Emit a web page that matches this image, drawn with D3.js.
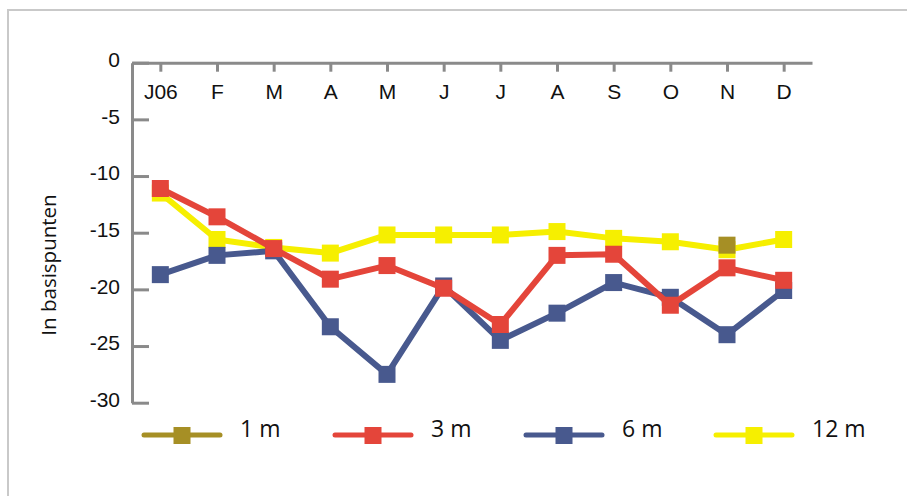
<!DOCTYPE html>
<html>
<head>
<meta charset="utf-8">
<script src="https://cdn.jsdelivr.net/npm/d3@7/dist/d3.min.js"></script>
<style>
  html, body { margin: 0; padding: 0; background: #fff; }
  svg { display: block; font-family: "Open Sans", "Noto Sans", sans-serif; }
</style>
</head>
<body>
<svg id="chart" width="907" height="496"></svg>
<script>
// Month labels along the top axis
const months = ["J06", "F", "M", "A", "M", "J", "J", "A", "S", "O", "N", "D"];
// Y tick values (basis points)
const yTicks = [0, -5, -10, -15, -20, -25, -30];
// Series values per month (basis points); null = no observation
const m1  = [null, null, null, null, null, null, null, null, null, null, -16.1, null];
const m3  = [-11.1, -13.6, -16.4, -19.1, -17.9, -19.9, -23.1, -17.0, -16.9, -21.4, -18.1, -19.2];
const m6  = [-18.7, -17.0, -16.6, -23.3, -27.5, -19.7, -24.5, -22.1, -19.4, -20.7, -24.0, -20.1];
const m12 = [-11.5, -15.6, -16.3, -16.8, -15.2, -15.2, -15.2, -14.9, -15.5, -15.8, -16.5, -15.6];
const seriesNames = ["1 m", "3 m", "6 m", "12 m"];
const seriesColors = ["#a68f25", "#e4453a", "#48598e", "#f6ef00"];

const series = [m1, m3, m6, m12].map((values, i) => ({
  name: seriesNames[i], color: seriesColors[i], values
}));

const svg = d3.select("#chart");

// Outer frame
svg.append("rect")
  .attr("x", 8).attr("y", 10)
  .attr("width", 920).attr("height", 520)
  .attr("fill", "none").attr("stroke", "#c9c9c9").attr("stroke-width", 2);

const x = d3.scalePoint().domain(d3.range(months.length)).range([132, 812]).padding(0.5);
const y = d3.scaleLinear().domain([-30, 0]).range([402.7, 62.7]);

const axisColor = "#8a8a8a";

// Top axis with month labels underneath
const gx = svg.append("g")
  .attr("transform", `translate(0,${y(0)})`)
  .call(d3.axisBottom(x).tickSizeInner(9).tickSizeOuter(0).tickPadding(12)
    .tickFormat(i => months[i]));
gx.select(".domain").attr("stroke", axisColor).attr("stroke-width", 3);
gx.selectAll(".tick line").attr("stroke", axisColor).attr("stroke-width", 3);
gx.selectAll(".tick text").attr("fill", "#111").style("font-size", "21px");

// Left axis, ticks pointing inward
const gy = svg.append("g")
  .attr("transform", `translate(${x.range()[0]},0)`)
  .call(d3.axisLeft(y).tickValues(yTicks).tickSizeInner(-17).tickSizeOuter(0).tickPadding(12)
    .tickFormat(d => String(d)));
gy.select(".domain").attr("stroke", axisColor).attr("stroke-width", 3);
gy.selectAll(".tick line").attr("stroke", axisColor).attr("stroke-width", 3);
gy.selectAll(".tick text").attr("fill", "#111").attr("y", -3).style("font-size", "21px");

// Y axis title
svg.append("text")
  .attr("transform", "translate(51,265) rotate(-90)")
  .attr("text-anchor", "middle")
  .attr("dominant-baseline", "middle")
  .attr("fill", "#111")
  .style("font-size", "20.5px")
  .text("In basispunten");

// Lines and markers; longest maturity drawn first
const line = d3.line()
  .defined(d => d.v !== null)
  .x(d => x(d.i))
  .y(d => y(d.v));

const mk = 17;
series.slice().reverse().forEach(s => {
  const pts = s.values.map((v, i) => ({ i, v }));
  svg.append("path")
    .datum(pts)
    .attr("d", line)
    .attr("fill", "none")
    .attr("stroke", s.color)
    .attr("stroke-width", 6)
    .attr("stroke-linejoin", "round");
  svg.append("g").selectAll("rect")
    .data(pts.filter(d => d.v !== null))
    .join("rect")
    .attr("x", d => x(d.i) - mk / 2)
    .attr("y", d => y(d.v) - mk / 2)
    .attr("width", mk).attr("height", mk)
    .attr("fill", s.color);
});

// Legend
const legend = svg.append("g").attr("transform", "translate(0,435)");
const legendX = d3.scaleLinear().domain([0, 1]).range([144, 335]);
series.forEach((s, i) => {
  const g = legend.append("g").attr("transform", `translate(${legendX(i) - (i === 3 ? 1 : 0)},0)`);
  g.append("line")
    .attr("x1", 0).attr("x2", 76).attr("y1", 0).attr("y2", 0)
    .attr("stroke", s.color).attr("stroke-width", 5).attr("stroke-linecap", "round");
  g.append("rect")
    .attr("x", 38 - mk / 2).attr("y", -mk / 2 + 0.5)
    .attr("width", mk).attr("height", mk)
    .attr("fill", s.color);
  g.append("text")
    .attr("x", 96).attr("y", 1.7)
    .attr("fill", "#111")
    .style("font-size", "23px")
    .text(s.name);
});
</script>
</body>
</html>
